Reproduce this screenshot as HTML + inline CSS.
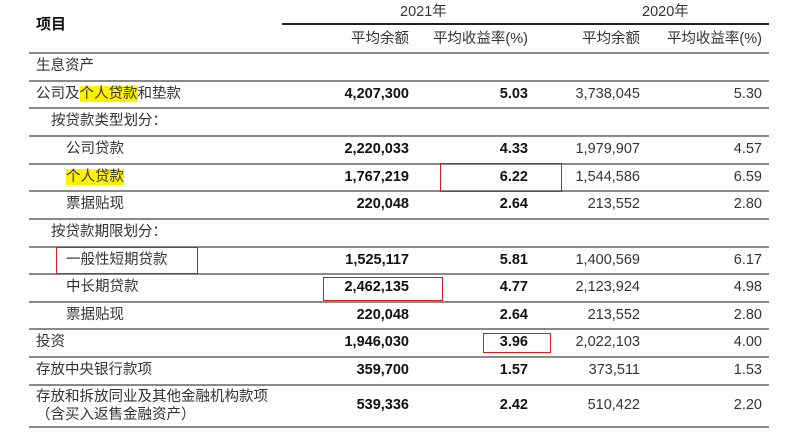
<!DOCTYPE html>
<html><head><meta charset="utf-8"><style>
body{margin:0;width:800px;height:433px;background:#fff;position:relative;overflow:hidden;font-family:"Liberation Sans","Noto Sans CJK SC",sans-serif;font-size:14.5px;color:#333}
.t{position:absolute;white-space:nowrap;line-height:18px}
.r{text-align:right}
.b{font-weight:bold;color:#111}
.ln{position:absolute;height:1.5px;background:#8a8a8a;left:29px;width:740px}
.box{position:absolute;border:1.5px solid #e0191c;box-sizing:border-box;z-index:5}
.hl{background:#fff200}
</style></head><body>
<div class="t b" style="left:36px;top:16px;font-size:15px">项目</div>
<div class="t" style="left:400px;top:3px">2021年</div>
<div class="t" style="left:642px;top:3px">2020年</div>
<div class="ln" style="left:282px;width:487px;top:23px;background:#222"></div>
<div class="t r" style="right:391px;top:30px">平均余额</div>
<div class="t r" style="right:272px;top:30px">平均收益率(%)</div>
<div class="t r" style="right:160px;top:30px">平均余额</div>
<div class="t r" style="right:38px;top:30px">平均收益率(%)</div>
<div id="rows"></div>
<div class="box" style="left:440px;top:163px;width:122px;height:29px"></div>
<div class="box" style="left:56px;top:247px;width:142px;height:27px"></div>
<div class="box" style="left:323px;top:277px;width:120px;height:24px"></div>
<div class="box" style="left:483px;top:333px;width:68px;height:20px"></div>
<script>
const labels=["生息资产","公司及<span class='hl'>个人贷款</span>和垫款","按贷款类型划分：","公司贷款","<span class='hl'>个人贷款</span>","票据贴现","按贷款期限划分：","一般性短期贷款","中长期贷款","票据贴现","投资","存放中央银行款项","存放和拆放同业及其他金融机构款项<br>（含买入返售金融资产）"];
const indents=[0,0,1,2,2,2,1,2,2,2,0,0,0];
const bal2021=["","4,207,300","","2,220,033","1,767,219","220,048","","1,525,117","2,462,135","220,048","1,946,030","359,700","539,336"];
const rate2021=["","5.03","","4.33","6.22","2.64","","5.81","4.77","2.64","3.96","1.57","2.42"];
const bal2020=["","3,738,045","","1,979,907","1,544,586","213,552","","1,400,569","2,123,924","213,552","2,022,103","373,511","510,422"];
const rate2020=["","5.30","","4.57","6.59","2.80","","6.17","4.98","2.80","4.00","1.53","2.20"];
const lines=[52,80,107,135,163,190,218,246,273,301,328,356,384,426];
const c=document.getElementById('rows');
function add(html,cls,style,name){const d=document.createElement('div');d.className='t '+cls;d.style.cssText=style;d.innerHTML=html;


c.appendChild(d);}
lines.forEach((y,i)=>{const d=document.createElement('div');d.className='ln';d.style.top=y+'px';


c.appendChild(d);});
labels.forEach((l,i)=>{const top=lines[i],h=lines[i+1]-top;const multi=i==12;const ty=multi?top+4:top+(h-18)/2;
add(l,'',`left:${36+indents[i]*15}px;top:${ty}px`,'row-label');
const ny=top+(h-18)/2;
if(bal2021[i])add(bal2021[i],'r b',`right:391px;top:${ny}px`,'bal-2021');
if(rate2021[i])add(rate2021[i],'r b',`right:272px;top:${ny}px`,'rate-2021');
if(bal2020[i])add(bal2020[i],'r',`right:160px;top:${ny}px`,'bal-2020');
if(rate2020[i])add(rate2020[i],'r',`right:38px;top:${ny}px`,'rate-2020');});
</script>
</body></html>
